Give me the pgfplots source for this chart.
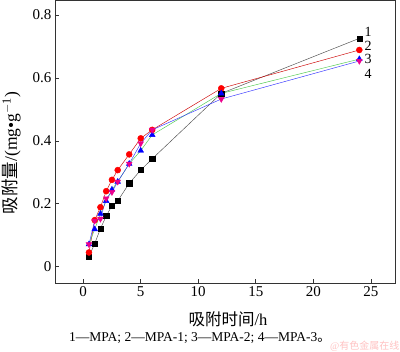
\documentclass[border=0pt]{standalone}
\usepackage{pgfplots}
\pgfplotsset{compat=1.18}
\usepackage{fontspec}
\setmainfont{Liberation Serif}
\newfontfamily\cjk{Noto Sans CJK SC}
\begin{document}
\begin{tikzpicture}[x=1pt,y=1pt]
\useasboundingbox (0,0) rectangle (400,352);
\begin{axis}[
  at={(55pt,69pt)}, anchor=south west,
  scale only axis, width=340pt, height=283pt,
  xmin=-2.45, xmax=27.1, ymin=-0.052, ymax=0.848,
  xtick={0,5,10,15,20,25}, ytick={0,0.2,0.4,0.6,0.8},
  xtick pos=left, ytick pos=left, tick align=inside,
  major tick length=4pt,
  axis line style={line width=0.6pt, black!80},
  tick style={line width=0.6pt, black!80},
  /pgf/number format/assume math mode=true,
  tick label style={font=\fontsize{15}{15}\selectfont},
  every axis plot/.append style={line width=0.45pt},
  clip=false,
]
\addplot[black!70, mark=square*, mark size=2.6pt, mark options={fill=black, draw=black}] coordinates {
(0.5,0.032) (1,0.073) (1.5,0.121) (2,0.161) (2.5,0.194) (3,0.209) (4,0.265) (5,0.307) (6,0.343) (12,0.551) (24,0.726)};
\addplot[red!80!black, mark=*, mark size=3pt, mark options={fill=red, draw=red}] coordinates {
(0.5,0.045) (1,0.148) (1.5,0.189) (2,0.240) (2.5,0.276) (3,0.307) (4,0.357) (5,0.408) (6,0.435) (12,0.567) (24,0.689)};
\addplot[green!70!black!70, mark=triangle*, mark size=3.3pt, mark options={fill=blue, draw=blue}] coordinates {
(0.5,0.071) (1,0.119) (1.5,0.168) (2,0.209) (2.5,0.245) (3,0.270) (4,0.327) (5,0.369) (6,0.419) (12,0.551) (24,0.660)};
\addplot[blue!80, mark=triangle*, mark size=3.3pt, mark options={fill=magenta, draw=magenta, rotate=180}] coordinates {
(0.5,0.071) (1,0.146) (1.5,0.152) (2,0.217) (2.5,0.237) (3,0.270) (4,0.327) (5,0.392) (6,0.435) (12,0.533) (24,0.654)};
\node[anchor=west, font=\fontsize{14}{14}\selectfont, inner sep=0pt] at (axis cs:24.45,0.748) {1};
\node[anchor=west, font=\fontsize{14}{14}\selectfont, inner sep=0pt] at (axis cs:24.45,0.703) {2};
\node[anchor=west, font=\fontsize{14}{14}\selectfont, inner sep=0pt] at (axis cs:24.45,0.659) {3};
\node[anchor=west, font=\fontsize{14}{14}\selectfont, inner sep=0pt] at (axis cs:24.45,0.614) {4};
\end{axis}
\node[rotate=90, anchor=north, inner sep=0pt, font=\fontsize{17.5}{17.5}\selectfont] at (2,199) {{\cjk 吸附量}/(mg•g\textsuperscript{$-$1})};
\node[font=\fontsize{16.5}{16.5}\selectfont] at (228,33) {{\cjk 吸附时间}/h};
\node[font=\fontsize{13.5}{13.5}\selectfont] at (200,14) {1—MPA; 2—MPA-1; 3—MPA-2; 4—MPA-3{\cjk 。}};
\node[anchor=south east, inner sep=0.5pt, font=\fontsize{10}{10}\selectfont, text=red!40, opacity=0.6] at (400,0) {@{\cjk 有色金属在线}};
\end{tikzpicture}
\end{document}
